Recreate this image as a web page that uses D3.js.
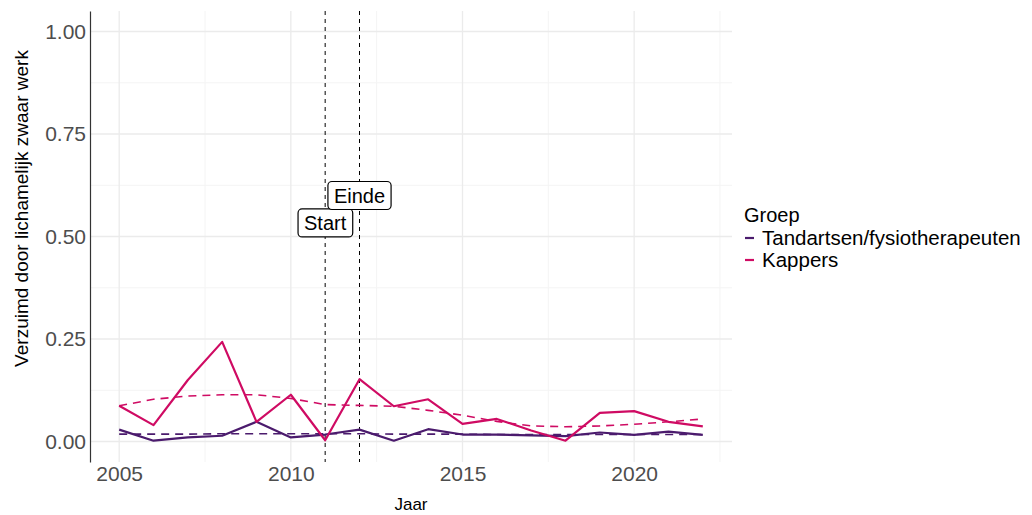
<!DOCTYPE html>
<html>
<head>
<meta charset="utf-8">
<script src="https://cdn.jsdelivr.net/npm/d3@7"></script>
<style>
  body { margin: 0; background: #fff; }
  svg { font-family: "Liberation Sans", Arial, sans-serif; }
</style>
</head>
<body>
<svg id="chart" width="1032" height="515"></svg>
<script>
const years = d3.range(2005, 2023);
const groups = ['Tandartsen/fysiotherapeuten', 'Kappers'];
const groupColors = ['#4b1b6d', '#cf0b63'];
const tandartsen = [0.029, 0.002, 0.010, 0.014, 0.048, 0.010, 0.017, 0.029, 0.002,
                    0.030, 0.017, 0.017, 0.015, 0.013, 0.022, 0.016, 0.024, 0.016];
const kappers = [0.087, 0.040, 0.150, 0.243, 0.048, 0.114, 0.003, 0.152, 0.086,
                 0.103, 0.043, 0.055, 0.027, 0.002, 0.070, 0.074, 0.048, 0.037];
const tandartsenTrend = [0.018, 0.018, 0.018, 0.019, 0.019, 0.019, 0.019, 0.019, 0.018,
                         0.018, 0.018, 0.017, 0.017, 0.017, 0.017, 0.017, 0.017, 0.017];
const kappersTrend = [0.087, 0.103, 0.111, 0.114, 0.114, 0.105, 0.090, 0.088, 0.086,
                      0.076, 0.064, 0.049, 0.038, 0.036, 0.038, 0.042, 0.048, 0.055];
const events = [{ year: 2011, label: 'Start', y: 0.533 }, { year: 2012, label: 'Einde', y: 0.600 }];
const yTicks = [0, 0.25, 0.5, 0.75, 1];
const xTicks = [2005, 2010, 2015, 2020];

const svg = d3.select('#chart');
const pLeft = 90, pRight = 732, pTop = 11, pBottom = 462;

const x = d3.scaleLinear().domain([2004.15, 2022.85]).range([pLeft, pRight]);
const y = d3.scaleLinear().domain([-0.05, 1.05]).range([pBottom, pTop]);

// grid
const gGrid = svg.append('g');
const minorX = [2007.5, 2012.5, 2017.5, 2022.5];
const minorY = [0.125, 0.375, 0.625, 0.875];
gGrid.selectAll('.mx').data(minorX).enter().append('line')
    .attr('x1', d => x(d)).attr('x2', d => x(d)).attr('y1', pTop).attr('y2', pBottom)
    .attr('stroke', '#f4f4f4').attr('stroke-width', 1);
gGrid.selectAll('.my').data(minorY).enter().append('line')
    .attr('x1', pLeft).attr('x2', pRight).attr('y1', d => y(d)).attr('y2', d => y(d))
    .attr('stroke', '#f4f4f4').attr('stroke-width', 1);
gGrid.selectAll('.gx').data(xTicks).enter().append('line')
    .attr('x1', d => x(d)).attr('x2', d => x(d)).attr('y1', pTop).attr('y2', pBottom)
    .attr('stroke', '#ebebeb').attr('stroke-width', 1.3);
gGrid.selectAll('.gy').data(yTicks).enter().append('line')
    .attr('x1', pLeft).attr('x2', pRight).attr('y1', d => y(d)).attr('y2', d => y(d))
    .attr('stroke', '#ebebeb').attr('stroke-width', 1.3);

// axes
const yAxis = svg.append('g').attr('transform', `translate(${pLeft},0)`)
    .call(d3.axisLeft(y).tickValues(yTicks).tickFormat(d3.format('.2f')).tickSize(0).tickPadding(4));
yAxis.select('.domain').attr('stroke', '#333').attr('stroke-width', 1.2);
yAxis.selectAll('text').attr('font-size', 21).attr('fill', '#4d4d4d')
    .attr('font-family', '"Liberation Sans", Arial, sans-serif');

const xAxis = svg.append('g').attr('transform', `translate(0,${pBottom})`)
    .call(d3.axisBottom(x).tickValues(xTicks).tickFormat(d3.format('d')).tickSize(0).tickPadding(4));
xAxis.select('.domain').remove();
xAxis.selectAll('text').attr('font-size', 21).attr('fill', '#4d4d4d')
    .attr('font-family', '"Liberation Sans", Arial, sans-serif');

svg.append('text').attr('x', (pLeft + pRight) / 2).attr('y', 510)
    .attr('text-anchor', 'middle').attr('font-size', 17).attr('fill', '#000').text('Jaar');
svg.append('text').attr('transform', `translate(28,${(pTop + pBottom) / 2 - 28}) rotate(-90)`)
    .attr('text-anchor', 'middle').attr('font-size', 19).attr('fill', '#000')
    .text('Verzuimd door lichamelijk zwaar werk');

// event lines
const gEvents = svg.append('g');
gEvents.selectAll('line').data(events).enter().append('line')
    .attr('x1', d => x(d.year)).attr('x2', d => x(d.year)).attr('y1', pTop).attr('y2', pBottom)
    .attr('stroke', '#000').attr('stroke-width', 1).attr('stroke-dasharray', '4,4');

// lines
const line = d3.line().x((d, i) => x(years[i])).y(d => y(d));
const series = [
    { values: tandartsen, trend: tandartsenTrend, color: groupColors[0] },
    { values: kappers, trend: kappersTrend, color: groupColors[1] }
];
const gLines = svg.append('g');
series.forEach(s => {
    gLines.append('path').attr('d', line(s.trend)).attr('fill', 'none')
        .attr('stroke', s.color).attr('stroke-width', 1.6).attr('stroke-dasharray', '8,6');
});
series.forEach(s => {
    gLines.append('path').attr('d', line(s.values)).attr('fill', 'none')
        .attr('stroke', s.color).attr('stroke-width', 2.2).attr('stroke-linejoin', 'round');
});

// labels
events.forEach(e => {
    const g = svg.append('g');
    const t = g.append('text').attr('x', x(e.year)).attr('y', y(e.y) + 7)
        .attr('text-anchor', 'middle').attr('font-size', 20).attr('fill', '#000').text(e.label);
    const bb = t.node().getBBox();
    g.insert('rect', 'text')
        .attr('x', bb.x - 6).attr('y', y(e.y) - 14)
        .attr('width', bb.width + 12).attr('height', 28)
        .attr('rx', 4).attr('fill', '#fff').attr('stroke', '#000').attr('stroke-width', 1.2);
});

// legend
const gLegend = svg.append('g');
gLegend.append('text').attr('x', 744).attr('y', 222).attr('font-size', 20).attr('fill', '#000').text('Groep');
groups.forEach((name, i) => {
    const yy = 238 + i * 22;
    gLegend.append('line').attr('x1', 745).attr('x2', 754).attr('y1', yy).attr('y2', yy)
        .attr('stroke', groupColors[i]).attr('stroke-width', 2.2);
    gLegend.append('text').attr('x', 762).attr('y', yy + 7).attr('font-size', 20.5)
        .attr('fill', '#000').text(name);
});
</script>
</body>
</html>
